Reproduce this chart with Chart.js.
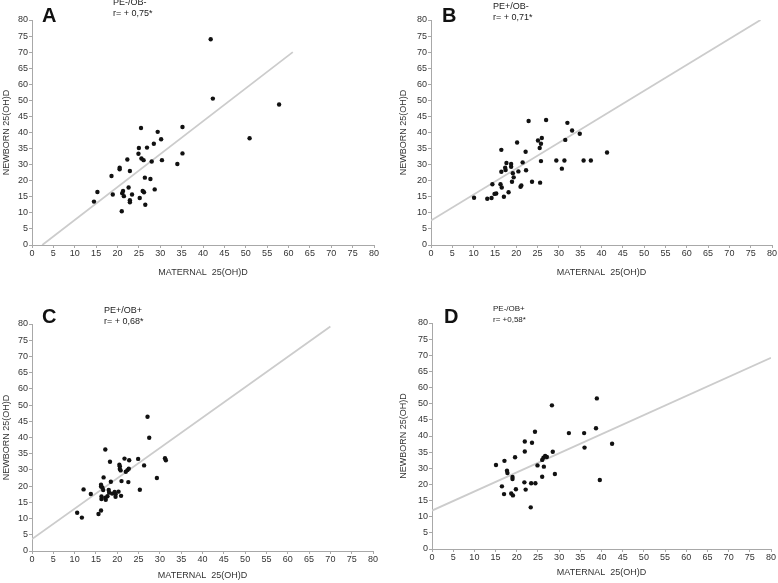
<!DOCTYPE html>
<html>
<head>
<meta charset="utf-8">
<script src="https://cdn.jsdelivr.net/npm/chart.js@4.4.1/dist/chart.umd.min.js"></script>
<style>
    body { margin: 0; background: #fff; width: 778px; height: 583px; position: relative; overflow: hidden; font-family: Arial, "Liberation Sans", sans-serif; }
    canvas { position: absolute; }
    .letter { position: absolute; font-weight: bold; font-size: 20px; line-height: 20px; color: #111; }
    .note { position: absolute; font-size: 9px; line-height: 11px; color: #222; white-space: pre; }
</style>
</head>
<body>
<canvas id="chartA" width="389" height="290" style="left:0;top:0"></canvas>
<canvas id="chartB" width="389" height="290" style="left:389px;top:0"></canvas>
<canvas id="chartC" width="389" height="293" style="left:0;top:290px"></canvas>
<canvas id="chartD" width="389" height="293" style="left:389px;top:290px"></canvas>

<div class="letter" style="left:42px;top:5px">A</div>
<div class="letter" style="left:442px;top:5px">B</div>
<div class="letter" style="left:42px;top:306px">C</div>
<div class="letter" style="left:444px;top:306px">D</div>

<div class="note" style="left:113px;top:-3px">PE-/OB-<br>r= + 0,75*</div>
<div class="note" style="left:493px;top:1px">PE+/OB-<br>r= + 0,71*</div>
<div class="note" style="left:104px;top:305px">PE+/OB+<br>r= + 0,68*</div>
<div class="note" style="left:493px;top:303px;font-size:8px">PE-/OB+<br>r= +0,58*</div>

<script>
// y axis labels as printed on the figure (25 and 55 are skipped)
const yTickLabels = [0, 5, 10, 15, 20, 30, 35, 40, 45, 50, 60, 65, 70, 75, 80];

// A: PE-/OB-
const maternalA = [41.8, 42.3, 57.8, 50.9, 35.2, 35.2, 34.0, 30.4, 30.2, 29.4, 28.5, 28.0, 26.9, 25.5, 25.0, 24.9, 25.6, 26.1, 22.3, 22.9, 20.5, 20.5, 18.6, 26.4, 27.7, 18.9, 15.3, 14.5, 21.3, 21.1, 21.5, 22.6, 23.4, 22.9, 22.9, 25.2, 25.9, 26.2, 26.5, 28.7, 21.0];
const newbornA = [74.0, 51.1, 48.7, 38.2, 41.7, 33.5, 30.2, 31.4, 37.9, 40.2, 36.5, 31.0, 35.3, 41.4, 35.2, 33.4, 31.9, 31.4, 31.6, 26.0, 28.1, 27.1, 22.9, 21.9, 21.1, 15.7, 16.5, 13.5, 16.8, 16.1, 15.2, 17.9, 15.7, 13.9, 13.3, 14.6, 16.8, 16.4, 12.5, 17.3, 10.5];
const fitAx = [2.4, 61.0];
const fitAy = [0, 70];

// B: PE+/OB-
const maternalB = [10.1, 13.2, 14.2, 14.9, 15.3, 14.4, 17.1, 18.2, 16.3, 16.6, 16.5, 16.5, 17.4, 17.5, 17.7, 18.8, 18.8, 19.2, 19.4, 19.0, 20.2, 20.5, 21.5, 21.0, 21.2, 22.2, 22.3, 22.9, 23.7, 25.1, 25.5, 26.0, 25.8, 25.8, 25.6, 27.0, 29.4, 30.7, 31.3, 31.5, 32.0, 33.1, 34.9, 35.8, 37.5, 41.3];
const newbornB = [14.7, 14.4, 14.6, 15.9, 16.0, 18.9, 15.0, 16.4, 18.9, 17.9, 34.6, 25.6, 28.1, 26.7, 30.5, 30.2, 28.7, 24.6, 22.1, 19.7, 36.9, 25.8, 30.7, 18.1, 18.5, 34.0, 26.5, 43.6, 19.7, 37.5, 35.2, 38.3, 36.5, 31.1, 19.4, 43.9, 31.3, 27.5, 31.3, 37.7, 43.0, 40.6, 39.6, 31.3, 31.3, 33.8];
const fitBx = [0, 77.3];
const fitBy = [7.6, 80];

// C: PE+/OB+
const maternalC = [27.1, 27.5, 17.2, 18.3, 21.7, 22.8, 24.9, 26.3, 31.2, 31.4, 20.5, 20.6, 20.6, 20.8, 22.7, 22.4, 22.0, 21.0, 22.6, 18.5, 16.8, 16.2, 16.2, 16.5, 29.3, 12.1, 13.8, 16.7, 18.0, 18.1, 17.7, 16.3, 16.3, 17.2, 17.3, 18.8, 19.4, 19.6, 19.6, 20.3, 20.9, 25.3, 16.2, 15.6, 10.6, 11.7];
const newbornC = [46.4, 39.9, 36.3, 32.5, 33.5, 33.0, 33.4, 31.4, 33.6, 33.0, 31.6, 31.1, 30.3, 29.7, 30.4, 29.9, 28.9, 23.1, 22.5, 22.7, 25.4, 20.9, 19.9, 19.6, 25.0, 19.0, 17.6, 18.8, 18.8, 18.0, 16.9, 16.8, 16.0, 16.4, 15.8, 17.7, 18.2, 17.5, 16.7, 18.3, 17.0, 18.9, 12.5, 11.4, 11.8, 10.3];
const fitCx = [0, 70.0];
const fitCy = [3.7, 79.2];

// D: PE-/OB+
const maternalD = [38.9, 28.3, 24.3, 32.3, 35.9, 38.7, 21.9, 23.6, 42.5, 36.0, 21.9, 28.5, 19.6, 15.1, 17.1, 26.0, 26.3, 26.7, 27.1, 24.9, 26.4, 17.7, 17.8, 19.0, 19.0, 26.0, 29.0, 16.5, 21.8, 23.4, 24.4, 39.6, 17.0, 19.8, 22.1, 18.7, 19.1, 23.3];
const newbornD = [53.3, 49.5, 41.3, 40.9, 40.9, 42.4, 38.3, 37.9, 37.6, 36.4, 35.2, 35.1, 33.4, 31.0, 32.3, 32.6, 33.3, 33.8, 33.5, 30.9, 30.5, 28.5, 27.1, 24.6, 23.4, 24.8, 26.5, 19.4, 21.3, 20.7, 20.7, 22.7, 17.0, 18.5, 18.4, 17.2, 16.6, 12.9];
const fitDx = [0, 80];
const fitDy = [11.9, 69.2];

// map a newborn value onto the evenly spaced printed y ticks
function toPos(v) {
    for (let i = 0; i < yTickLabels.length - 1; i++) {
        const lo = yTickLabels[i], hi = yTickLabels[i + 1];
        if (v <= hi) return i + (v - lo) / (hi - lo);
    }
    return yTickLabels.length - 1;
}

function toPoints(xs, ys) {
    return xs.map((x, i) => ({ x: x, y: toPos(ys[i]) }));
}

const axisColor = '#a8a8a8';
const tickFont = { family: 'Arial, "Liberation Sans", sans-serif', size: 9 };
const titleFont = { family: 'Arial, "Liberation Sans", sans-serif', size: 9 };

function makeChart(id, maternal, newborn, fitX, fitY, box) {
    const ctx = document.getElementById(id).getContext('2d');
    return new Chart(ctx, {
        type: 'scatter',
        data: {
            datasets: [{
                data: toPoints(maternal, newborn),
                backgroundColor: '#111',
                borderColor: '#111',
                pointRadius: 2.2,
                pointBorderWidth: 0
            }, {
                data: toPoints(fitX, fitY),
                showLine: true,
                pointRadius: 0,
                borderColor: '#cccccc',
                borderWidth: 1.8
            }]
        },
        options: {
            responsive: false,
            animation: false,
            devicePixelRatio: 1,
            layout: { padding: { top: box.top, right: box.right, left: 0, bottom: 0 } },
            plugins: { legend: { display: false }, tooltip: { enabled: false } },
            scales: {
                x: {
                    type: 'linear', min: 0, max: 80,
                    ticks: { stepSize: 5, color: '#333', font: tickFont, padding: 0, maxRotation: 0, autoSkip: false },
                    grid: { drawOnChartArea: false, drawTicks: true, tickLength: 3, color: axisColor },
                    border: { color: axisColor, width: 1 },
                    title: { display: true, text: 'MATERNAL  25(OH)D', color: '#333', font: titleFont, padding: { top: 0, bottom: box.xTitlePad } },
                    afterFit: s => { s.height = box.xHeight; }
                },
                y: {
                    type: 'linear', min: 0, max: yTickLabels.length - 1,
                    ticks: { stepSize: 1, color: '#333', font: tickFont, padding: 1, autoSkip: false,
                        callback: v => yTickLabels[v] },
                    grid: { drawOnChartArea: false, drawTicks: true, tickLength: 3, color: axisColor },
                    border: { color: axisColor, width: 1 },
                    title: { display: true, text: 'NEWBORN 25(OH)D', color: '#333', font: titleFont, padding: { top: box.yTitlePad, bottom: 0 } },
                    afterFit: s => { s.width = box.yWidth; }
                }
            }
        }
    });
}

makeChart('chartA', maternalA, newbornA, fitAx, fitAy, { top: 20, right: 15, xHeight: 45, yWidth: 32, xTitlePad: 12, yTitlePad: 1 });
makeChart('chartB', maternalB, newbornB, fitBx, fitBy, { top: 20, right: 6, xHeight: 45, yWidth: 42, xTitlePad: 12, yTitlePad: 9 });
makeChart('chartC', maternalC, newbornC, fitCx, fitCy, { top: 34, right: 16, xHeight: 32, yWidth: 32, xTitlePad: 2, yTitlePad: 1 });
makeChart('chartD', maternalD, newbornD, fitDx, fitDy, { top: 33, right: 7, xHeight: 34, yWidth: 43, xTitlePad: 5, yTitlePad: 9 });
</script>
</body>
</html>
